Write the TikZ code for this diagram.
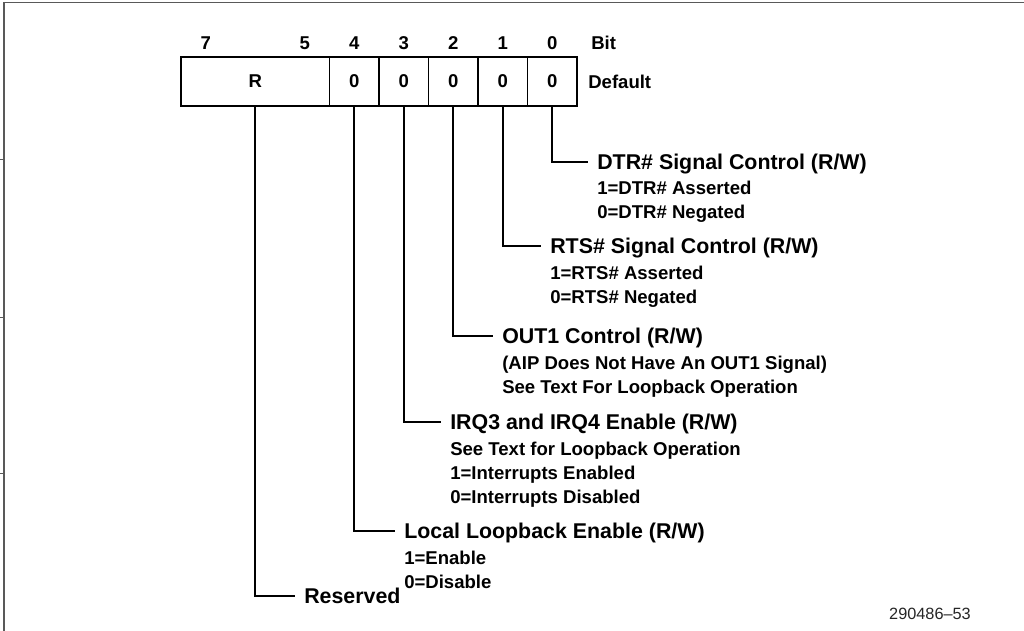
\documentclass[tikz,border=0pt]{standalone}
\usepackage{fontspec}
\setmainfont{Liberation Sans}
\usetikzlibrary{positioning}

\begin{document}
\begin{tikzpicture}[
  cell/.style={draw, line width=1.4pt, outer sep=0pt, inner sep=0pt, minimum width=1.2375cm, minimum height=1.225cm, font=\fontsize{13.2}{16}\selectfont\bfseries},
  bitno/.style={inner sep=0pt, font=\fontsize{13.2}{16}\selectfont\bfseries},
  tap/.style={line width=1.4pt},
  ttl/.style={anchor=west, inner xsep=0.225cm, inner ysep=0pt, text height=10.9pt, text depth=0pt, font=\fontsize{15.2}{18}\selectfont\bfseries},
  desc/.style={anchor=north west, inner sep=0pt, align=left, font=\fontsize{13.2}{17.07}\selectfont\bfseries},
]
\useasboundingbox (0,0) rectangle (25.6,-15.775);

% Frame
\draw[gray!70!black, line width=1.4pt] (0.1,-15.775) -- (0.1,-0.0625) -- (25.6,-0.0625);
\foreach \ty in {-3.975,-7.925,-11.825}
  \draw[gray!70!black, line width=0.6pt] (0,\ty) -- (0.1,\ty);

% Register
\node[cell, minimum width=3.7125cm, anchor=north west] (r) at (4.525,-1.425) {R};
\node[cell, right=0pt of r] (b4) {0};
\node[cell, right=0pt of b4] (b3) {0};
\node[cell, right=0pt of b3] (b2) {0};
\node[cell, right=0pt of b2] (b1) {0};
\node[cell, right=0pt of b1] (b0) {0};

% Bit numbers
\node[bitno, yshift=0.35cm] (n7) at ([xshift=0.61875cm]r.north west) {7};
\node[bitno, yshift=0.35cm] (n5) at ([xshift=-0.61875cm]r.north east) {5};
\node[bitno, yshift=0.35cm] (n4) at (b4.north) {4};
\node[bitno, yshift=0.35cm] (n3) at (b3.north) {3};
\node[bitno, yshift=0.35cm] (n2) at (b2.north) {2};
\node[bitno, yshift=0.35cm] (n1) at (b1.north) {1};
\node[bitno, yshift=0.35cm] (n0) at (b0.north) {0};
\node[bitno, anchor=west, yshift=0.35cm] (bitlbl) at ([xshift=0.35cm]b0.north east) {Bit};
\node[bitno, anchor=west] (deflbl) at ([xshift=0.275cm]b0.east) {Default};

% Field descriptions
\node[ttl] (dtr) at (14.7,-4.04) {DTR\# Signal Control (R/W)};
\node[desc] (dtrdesc) at ([shift={(0.225,-0.4825)}]dtr.west) {1=DTR\# Asserted\\0=DTR\# Negated};

\node[ttl] (rts) at (13.525,-6.15) {RTS\# Signal Control (R/W)};
\node[desc] (rtsdesc) at ([shift={(0.225,-0.4825)}]rts.west) {1=RTS\# Asserted\\0=RTS\# Negated};

\node[ttl] (out1) at (12.325,-8.4) {OUT1 Control (R/W)};
\node[desc] (out1desc) at ([shift={(0.225,-0.4825)}]out1.west) {(AIP Does Not Have An OUT1 Signal)\\See Text For Loopback Operation};

\node[ttl] (irq) at (11.025,-10.55) {IRQ3 and IRQ4 Enable (R/W)};
\node[desc] (irqdesc) at ([shift={(0.225,-0.4825)}]irq.west) {See Text for Loopback Operation\\1=Interrupts Enabled\\0=Interrupts Disabled};

\node[ttl] (loop) at (9.875,-13.275) {Local Loopback Enable (R/W)};
\node[desc] (loopdesc) at ([shift={(0.225,-0.4825)}]loop.west) {1=Enable\\0=Disable};

\node[ttl] (resv) at (7.375,-14.9) {Reserved};

% Taps
\draw[tap] (b0.south) |- (dtr.west);
\draw[tap] (b1.south) |- (rts.west);
\draw[tap] (b2.south) |- (out1.west);
\draw[tap] (b3.south) |- (irq.west);
\draw[tap] (b4.south) |- (loop.west);
\draw[tap] (r.south) |- (resv.west);

\node[font=\fontsize{11.6}{14}\selectfont, text=black!85] (fignum) at (23.25,-15.35) {290486--53};
\end{tikzpicture}
\end{document}
